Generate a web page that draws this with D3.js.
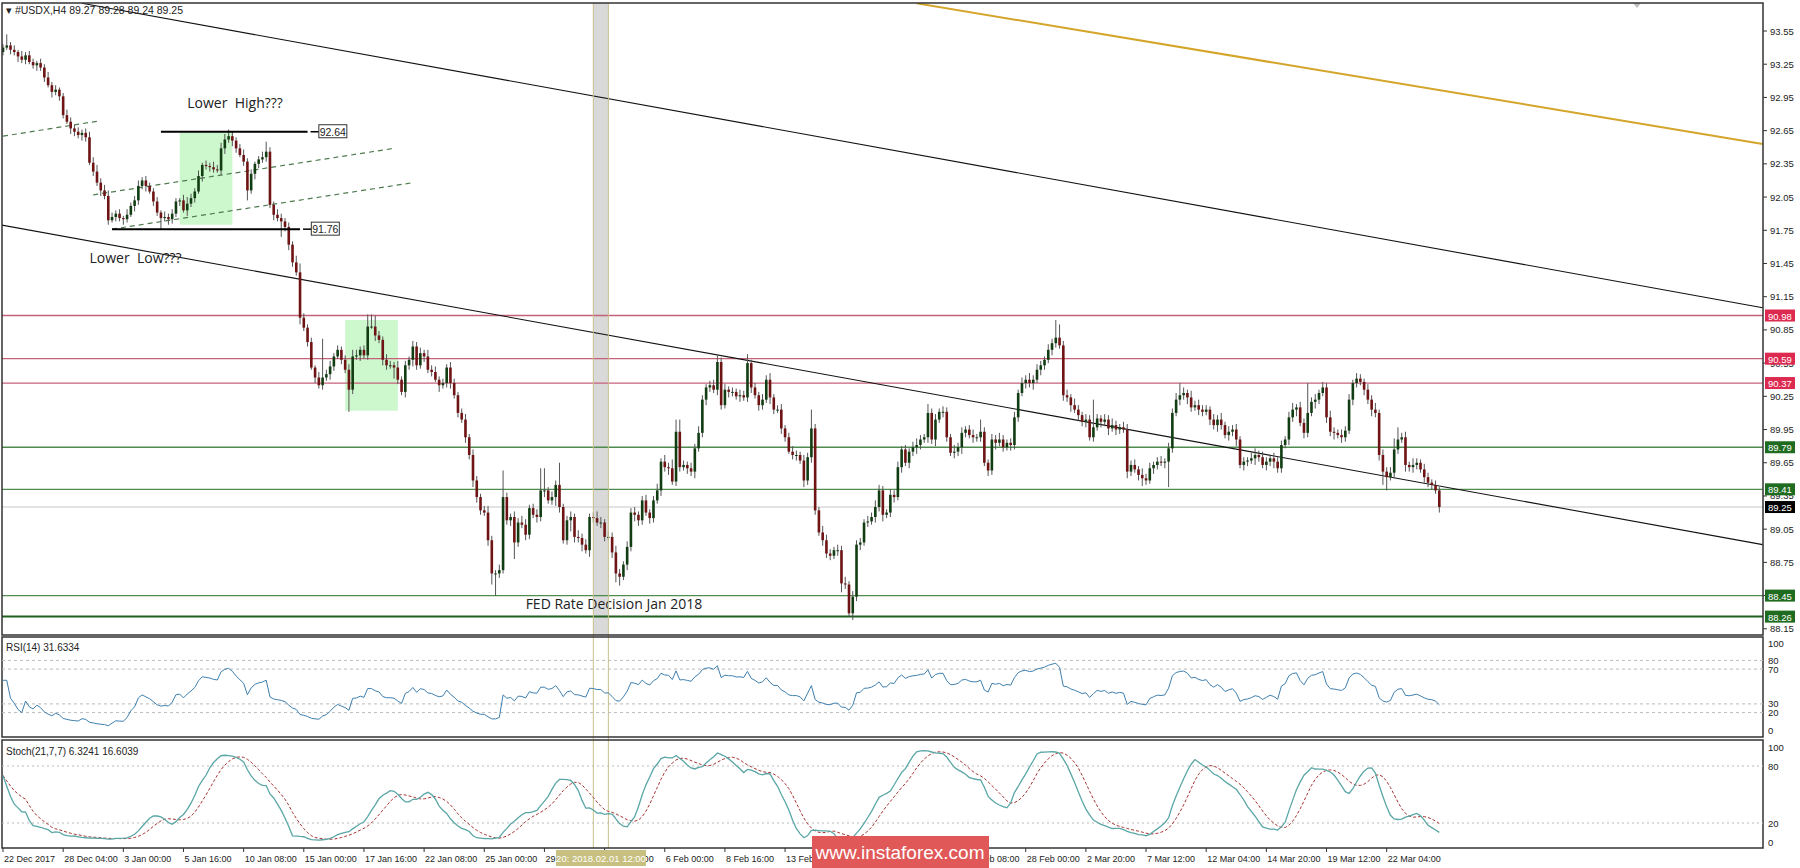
<!DOCTYPE html>
<html><head><meta charset="utf-8">
<script src="https://cdn.jsdelivr.net/npm/d3@7"></script>
<style>body{margin:0;background:#fff}svg{display:block}</style>
</head><body>
<svg id="c" width="1800" height="868"></svg>
<script>
// ---------------- DATA ----------------
const closes = [
93.40,93.42,93.38,93.36,93.32,93.29,93.33,93.27,93.24,93.26,93.22,93.13,93.06,93.00,93.02,92.96,92.79,92.73,92.67,92.64,
92.61,92.63,92.59,92.36,92.28,92.18,92.11,92.06,91.84,91.87,91.90,91.86,91.85,91.89,91.97,92.02,92.15,92.20,92.15,92.10,
92.01,91.91,91.86,91.87,91.85,91.90,92.01,92.02,91.93,91.99,92.04,92.10,92.24,92.34,92.33,92.32,92.30,92.29,92.49,92.57,
92.60,92.56,92.49,92.43,92.37,92.11,92.26,92.35,92.39,92.41,92.46,91.98,91.89,91.86,91.83,91.78,91.62,91.46,91.37,90.96,
90.87,90.74,90.51,90.42,90.35,90.42,90.45,90.52,90.61,90.67,90.58,90.49,90.31,90.61,90.62,90.67,90.62,90.88,90.88,90.80,
90.76,90.58,90.53,90.53,90.51,90.40,90.29,90.53,90.58,90.70,90.53,90.64,90.61,90.49,90.47,90.40,90.35,90.37,90.51,90.37,
90.26,90.10,90.04,89.88,89.72,89.49,89.34,89.22,89.20,88.95,88.65,88.65,88.68,89.34,89.13,89.16,88.93,89.11,89.09,89.00,
89.24,89.18,89.16,89.40,89.40,89.31,89.34,89.45,89.25,88.95,89.13,89.16,88.98,88.97,88.91,88.86,89.16,89.15,89.11,89.11,
88.98,88.98,88.84,88.65,88.62,88.73,88.89,89.20,89.18,89.13,89.31,89.20,89.15,89.31,89.40,89.66,89.61,89.60,89.48,89.93,
89.61,89.63,89.60,89.57,89.78,89.92,90.22,90.33,90.35,90.31,90.56,90.17,90.31,90.29,90.29,90.25,90.26,90.24,90.55,90.33,
90.26,90.17,90.22,90.40,90.24,90.13,90.13,89.96,89.88,89.75,89.72,89.72,89.67,89.49,89.70,89.96,89.22,89.02,88.95,88.83,
88.81,88.86,88.86,88.56,88.55,88.29,88.44,88.91,88.93,89.11,89.12,89.16,89.25,89.40,89.18,89.20,89.36,89.34,89.61,89.77,
89.65,89.75,89.79,89.81,89.86,89.88,90.10,89.86,90.04,90.11,90.11,89.88,89.74,89.75,89.79,89.92,89.95,89.90,89.88,89.88,
89.93,89.65,89.58,89.86,89.83,89.86,89.79,89.83,89.81,90.06,90.28,90.37,90.40,90.37,90.40,90.49,90.53,90.58,90.67,90.73,
90.78,90.71,90.26,90.24,90.17,90.13,90.08,90.02,90.04,89.88,89.97,90.05,90.02,90.04,89.96,89.99,89.95,89.97,89.95,89.57,
89.63,89.59,89.54,89.51,89.49,89.60,89.63,89.66,89.65,89.66,89.78,90.10,90.22,90.26,90.28,90.24,90.15,90.17,90.13,90.11,
90.13,90.04,89.99,90.04,89.99,89.90,89.93,89.95,89.86,89.63,89.66,89.67,89.69,89.72,89.70,89.63,89.66,89.69,89.66,89.60,
89.81,89.86,90.06,90.13,90.15,90.01,89.92,90.10,90.20,90.22,90.28,90.33,90.06,89.93,89.92,89.90,89.88,89.94,90.22,90.37,
90.41,90.38,90.31,90.22,90.13,90.10,89.72,89.57,89.52,89.56,89.77,89.86,89.88,89.63,89.61,89.63,89.65,89.59,89.52,89.47,
89.45,89.40,89.25];
// wick lengths in hundredths, base-36 per bar
const wickUpRows = [
"3a34253432","4353423543","434556455","43425345343","3425343256","4352435455","6434534235","9435434368",
"43425z4534","3456534bba","4354363435","4536453435","4345354346","435o435465","345kk354k3","4536453465",
"3546435453","453463648b","b435464345","6453435483","4354634534","54354h4365","4354635443","5465435453",
"4356438453","5436453453","b435464345","3546454354","gc45364354","p435464355","4536453453","546b536454",
"4354635453","4356454354","4356354r45","3546435453","5435463545","ab45364354","343"];
const wickDnRows = [
"3243534235","3425343254","3542435342","4353254352","43a3543425","3425343245","3542493543","4353e45436",
"3425343542","43k4353425","3543a43546","4353426345","3435465435","ak4345f435","4354634853","4a54636435",
"4358835465","4354354634","4354634543","5435435345","3543643542","4536454354","4358436453","4354634535",
"3546435463","5435464354","4354634354","4354635435","4354635453","4354635436","4357435435","n435464354",
"3546435463","5436435464","4354635436","4354635435","4354645cc3","5436454354","435"];
const firstOpen = 93.36;
const dateLabels = ["22 Dec 2017","28 Dec 04:00","3 Jan 00:00","5 Jan 16:00","10 Jan 08:00","15 Jan 00:00",
"17 Jan 16:00","22 Jan 08:00","25 Jan 00:00","29 Jan 16:00","1 Feb 08:00","6 Feb 00:00","8 Feb 16:00",
"13 Feb 08:00","16 Feb 00:00","20 Feb 16:00","23 Feb 08:00","28 Feb 00:00","2 Mar 20:00","7 Mar 12:00",
"12 Mar 04:00","14 Mar 20:00","19 Mar 12:00","22 Mar 04:00"];
const barsPerLabel = 16;
const priceTicks = [93.55,93.25,92.95,92.65,92.35,92.05,91.75,91.45,91.15,90.85,90.55,90.25,89.95,89.65,89.35,89.05,88.75,88.45,88.15];
const resistLevels = [90.98,90.59,90.37];
const supportLevels = [89.79,89.41,88.45,88.26];
const lastPrice = 89.25;
// trend lines: [bar1, price1, bar2, price2]
const blackLines = [[21,93.80,468,91.05],[-0.8,91.80,468,88.91]];
const goldLine = [243,93.80,468,92.53];
const dashedLines = [[0,92.60,26,92.74],[24,92.07,104,92.49],[29,91.76,109,92.18]];
const markLevels = [{p:92.64,b1:42,b2:81,lb:84},{p:91.76,b1:29,b2:79,lb:82}];
const boxes = [{b1:47,b2:61,p1:92.64,p2:91.80},{b1:91,b2:105,p1:90.94,p2:90.12}];
const eventBand = [157,161];
const rsiLevels = [80,70,30,20];
const stochLevels = [80,20];

// ---------------- BUILD OHLC ----------------
const wu = wickUpRows.join("").split("").map(c=>parseInt(c,36)/100);
const wd = wickDnRows.join("").split("").map(c=>parseInt(c,36)/100);
const bars = closes.map((c,i)=>{
  const o = i===0?firstOpen:closes[i-1];
  return {i,o,c,h:Math.max(o,c)+(wu[i]||0.03),l:Math.min(o,c)-(wd[i]||0.03)};
});

// ---------------- INDICATORS ----------------
const rsi=[];{let sg=0.02,sl=0.03;const n=14;
for(let i=1;i<closes.length;i++){const d=closes[i]-closes[i-1];const g=Math.max(d,0),l=Math.max(-d,0);
 const k=Math.min(i+1,n);sg=(sg*(k-1)+g)/k;sl=(sl*(k-1)+l)/k;
 rsi[i]= sl===0?100:100-100/(1+sg/sl);} rsi[0]=rsi[1];}
const kRaw=bars.map((b,i)=>{const w=bars.slice(Math.max(0,i-20),i+1);const hh=d3.max(w,d=>d.h),ll=d3.min(w,d=>d.l);return (b.c-ll)/(hh-ll)*100;});
const sma=(a,n)=>a.map((v,i)=>d3.mean(a.slice(Math.max(0,i-n+1),i+1)));
const kLine=sma(kRaw,7), dLine=sma(kLine,7);

// ---------------- SCALES ----------------
const svg=d3.select("#c");
const xs=d3.scaleLinear().domain([0,468]).range([3,3+468*3.76]);
const yP=d3.scaleLinear().domain([93.55,88.15]).range([31,628.8]);
const yR=d3.scaleLinear().domain([0,100]).range([730,643]);
const yS=d3.scaleLinear().domain([0,100]).range([842,747]);
const AX=1763;
const font="'Liberation Sans',Arial,sans-serif";

svg.append("clipPath").attr("id","cm").append("rect").attr("x",2).attr("y",3).attr("width",AX-2).attr("height",632);
const main=svg.append("g").attr("clip-path","url(#cm)");

main.append("rect").attr("x",xs(eventBand[0])).attr("y",3).attr("width",xs(eventBand[1])-xs(eventBand[0])).attr("height",632).attr("fill","#d9d9d9");
[eventBand[0],eventBand[1]].forEach(b=>svg.append("line").attr("x1",xs(b)).attr("x2",xs(b)).attr("y1",3).attr("y2",848).attr("stroke","#c9c08a").attr("stroke-width",1));

boxes.forEach(bx=>main.append("rect").attr("x",xs(bx.b1)).attr("y",yP(bx.p1)).attr("width",xs(bx.b2)-xs(bx.b1)).attr("height",yP(bx.p2)-yP(bx.p1)).attr("fill","#cdf7cd"));

resistLevels.forEach(p=>main.append("line").attr("x1",2).attr("x2",AX).attr("y1",yP(p)).attr("y2",yP(p)).attr("stroke","#c4627a").attr("stroke-width",1.3));
supportLevels.forEach((p,k)=>main.append("line").attr("x1",2).attr("x2",AX).attr("y1",yP(p)).attr("y2",yP(p)).attr("stroke",k===3?"#1f5f1f":"#4f8a4f").attr("stroke-width",k===3?2:1.3));
main.append("line").attr("x1",2).attr("x2",AX).attr("y1",yP(lastPrice)).attr("y2",yP(lastPrice)).attr("stroke","#c8c8c8");

blackLines.forEach(l=>main.append("line").attr("x1",xs(l[0])).attr("y1",yP(l[1])).attr("x2",xs(l[2])).attr("y2",yP(l[3])).attr("stroke","#111").attr("stroke-width",1.1));
main.append("line").attr("x1",xs(goldLine[0])).attr("y1",yP(goldLine[1])).attr("x2",xs(goldLine[2])).attr("y2",yP(goldLine[3])).attr("stroke","#d4a52a").attr("stroke-width",2);
dashedLines.forEach(l=>main.append("line").attr("x1",xs(l[0])).attr("y1",yP(l[1])).attr("x2",xs(l[2])).attr("y2",yP(l[3])).attr("stroke","#4f7a4f").attr("stroke-width",1.2).attr("stroke-dasharray","5,4"));

const cg=main.append("g");
bars.forEach(b=>{
  const x=xs(b.i), up=b.c>=b.o;
  cg.append("line").attr("x1",x).attr("x2",x).attr("y1",yP(b.h)).attr("y2",yP(b.l)).attr("stroke","#555").attr("stroke-width",1);
  const y1=yP(Math.max(b.o,b.c)), y2=yP(Math.min(b.o,b.c));
  cg.append("rect").attr("x",x-1.3).attr("width",2.6).attr("y",y1).attr("height",Math.max(1,y2-y1)).attr("fill",up?"#123d12":"#6e1414");
});

markLevels.forEach(m=>{
  const y=yP(m.p);
  main.append("line").attr("x1",xs(m.b1)).attr("x2",xs(m.b2)).attr("y1",y).attr("y2",y).attr("stroke","#000").attr("stroke-width",2);
  main.append("line").attr("x1",xs(m.b2)+3).attr("x2",xs(m.lb)).attr("y1",y).attr("y2",y).attr("stroke","#000").attr("stroke-width",1.5);
  main.append("rect").attr("x",xs(m.lb)).attr("y",y-7).attr("width",28).attr("height",13).attr("fill","#fff").attr("stroke","#333");
  main.append("text").attr("x",xs(m.lb)+14).attr("y",y+4).attr("text-anchor","middle").attr("font-family",font).attr("font-size",10.5).attr("fill","#222").text(m.p.toFixed(2));
});

const ann=[["Lower  High???",xs(49),yP(92.85)],["Lower  Low???",xs(23),yP(91.45)],["FED Rate Decision Jan 2018",xs(139),yP(88.33)]];
ann.forEach(a=>main.append("text").attr("x",a[1]).attr("y",a[2]).attr("font-family","'Open Sans',sans-serif").attr("font-size",14).attr("fill","#222").style("white-space","pre").text(a[0]));

svg.append("text").attr("x",6).attr("y",14).attr("font-family",font).attr("font-size",10.5).attr("fill","#222").text("\u25BE #USDX,H4  89.27 89.28 89.24 89.25");
svg.append("path").attr("d","M1633,3 L1641,3 L1637,8 Z").attr("fill","#bbb");

[[3,635],[637,737],[740,848]].forEach(p=>svg.append("rect").attr("x",2).attr("y",p[0]).attr("width",AX-2).attr("height",p[1]-p[0]).attr("fill","none").attr("stroke","#333").attr("stroke-width",1.5));

priceTicks.forEach(p=>{const y=yP(p);
  svg.append("line").attr("x1",AX).attr("x2",AX+4).attr("y1",y).attr("y2",y).attr("stroke","#333");
  svg.append("text").attr("x",AX+7).attr("y",y+3.5).attr("font-family",font).attr("font-size",9.5).attr("fill","#222").text(p.toFixed(2));});
const tag=(p,fill)=>{const y=yP(p);
  svg.append("rect").attr("x",AX+2).attr("y",y-6).attr("width",30).attr("height",12).attr("fill",fill);
  svg.append("text").attr("x",AX+5).attr("y",y+4).attr("font-family",font).attr("font-size",9.5).attr("fill","#fff").text(p.toFixed(2));};
resistLevels.forEach(p=>tag(p,"#dc2a50"));
supportLevels.forEach(p=>tag(p,"#1f6b1f"));
tag(lastPrice,"#000");

rsiLevels.forEach(v=>svg.append("line").attr("x1",2).attr("x2",AX).attr("y1",yR(v)).attr("y2",yR(v)).attr("stroke","#bbb").attr("stroke-dasharray","3,3"));
svg.append("path").attr("d",d3.line().x((d,i)=>xs(i)).y(d=>yR(d))(rsi)).attr("fill","none").attr("stroke","#3f7fae").attr("stroke-width",1);
svg.append("text").attr("x",6).attr("y",651).attr("font-family",font).attr("font-size",10).attr("fill","#222").text("RSI(14) 31.6334");
[100,80,70,30,20,0].forEach(v=>svg.append("text").attr("x",AX+5).attr("y",yR(v)+3.5).attr("font-family",font).attr("font-size",9.5).attr("fill","#222").text(v));

stochLevels.forEach(v=>svg.append("line").attr("x1",2).attr("x2",AX).attr("y1",yS(v)).attr("y2",yS(v)).attr("stroke","#bbb").attr("stroke-dasharray","2,3"));
svg.append("path").attr("d",d3.line().x((d,i)=>xs(i)).y(d=>yS(d))(dLine)).attr("fill","none").attr("stroke","#a83232").attr("stroke-width",1).attr("stroke-dasharray","3,2");
svg.append("path").attr("d",d3.line().x((d,i)=>xs(i)).y(d=>yS(d))(kLine)).attr("fill","none").attr("stroke","#5aa6a6").attr("stroke-width",1.3);
svg.append("text").attr("x",6).attr("y",755).attr("font-family",font).attr("font-size",10).attr("fill","#222").text("Stoch(21,7,7) 6.3241 16.6039");
[100,80,20,0].forEach(v=>svg.append("text").attr("x",AX+5).attr("y",yS(v)+3.5).attr("font-family",font).attr("font-size",9.5).attr("fill","#222").text(v));

dateLabels.forEach((t,k)=>{const x=xs(k*barsPerLabel);
  svg.append("line").attr("x1",x).attr("x2",x).attr("y1",848).attr("y2",852).attr("stroke","#333");
  svg.append("text").attr("x",x+1).attr("y",862).attr("font-family",font).attr("font-size",9).attr("fill","#222").text(t);});
svg.append("rect").attr("x",556).attr("y",850).attr("width",90).attr("height",16).attr("fill","#c8c080");
svg.append("text").attr("x",601).attr("y",862).attr("text-anchor","middle").attr("font-family",font).attr("font-size",9.5).attr("fill","#fff").text("20: 2018.02.01 12:00");

svg.append("rect").attr("x",812).attr("y",836).attr("width",177).attr("height",32).attr("fill","#e05858");
svg.append("text").attr("x",900).attr("y",859).attr("text-anchor","middle").attr("font-family",font).attr("font-size",19).attr("fill","#fff").text("www.instaforex.com");
</script>
</body></html>
